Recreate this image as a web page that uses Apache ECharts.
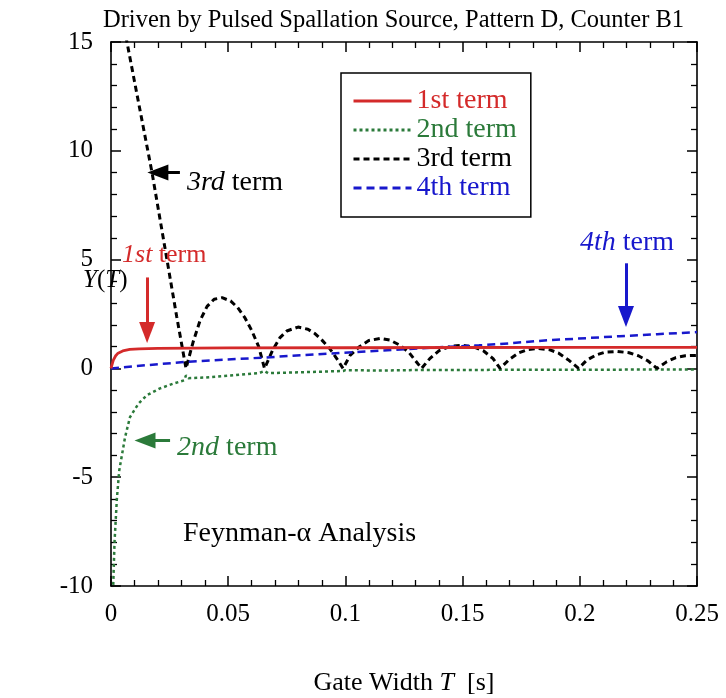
<!DOCTYPE html>
<html><head><meta charset="utf-8">
<script src="https://cdn.jsdelivr.net/npm/echarts@6/dist/echarts.min.js"></script>
<style>html,body{margin:0;padding:0;background:#fff}#c{width:726px;height:698px}</style>
</head><body><div id="c"></div>
<script>
const FONT = "'Liberation Serif','Times New Roman',serif";
const RED = '#d42a2a', GREEN = '#2b7a3a', BLACK = '#000000', BLUE = '#1818cc';

const seriesNames = ['1st term', '2nd term', '3rd term', '4th term'];
const xTicks = [0, 0.05, 0.1, 0.15, 0.2, 0.25];
const yTicks = [-10, -5, 0, 5, 10, 15];

// [gate width T (s), Y(T)]
const term1 = [[0,0],[0.0005,0.2],[0.001,0.38],[0.002,0.58],[0.003,0.7],[0.005,0.8],[0.008,0.87],[0.012,0.9],[0.02,0.92],[0.05,0.94],[0.1,0.95],[0.15,0.96],[0.2,0.97],[0.25,0.97]];
const term2 = [[0.0008,-10.5],[0.0015,-8.0],[0.0025,-6.0],[0.0035,-4.7],[0.006,-3.16],[0.0081,-2.24],[0.0117,-1.62],[0.0152,-1.24],[0.0209,-0.92],[0.0266,-0.7],[0.0312,-0.55],[0.032,-0.32],[0.033,-0.45],[0.04,-0.42],[0.051,-0.33],[0.063,-0.22],[0.0655,-0.12],[0.067,-0.22],[0.08,-0.18],[0.099,-0.12],[0.1,-0.08],[0.115,-0.1],[0.1325,-0.07],[0.15,-0.07],[0.2,-0.06],[0.25,-0.05]];
const term3 = [[0.004,16.6],[0.0068,15.0],[0.01,13.2],[0.0175,9.0],[0.0243,4.73],[0.028,2.4],[0.032,0],[0.035,1.2],[0.038,2.2],[0.041,2.85],[0.044,3.18],[0.0474,3.25],[0.051,3.1],[0.054,2.8],[0.057,2.35],[0.06,1.75],[0.063,1.0],[0.0655,0],[0.069,0.85],[0.072,1.4],[0.075,1.72],[0.0798,1.9],[0.084,1.8],[0.087,1.6],[0.09,1.3],[0.093,0.95],[0.096,0.5],[0.099,0],[0.102,0.6],[0.106,1.0],[0.11,1.28],[0.115,1.38],[0.119,1.3],[0.123,1.08],[0.127,0.75],[0.1325,0],[0.136,0.45],[0.14,0.82],[0.145,1.02],[0.15,1.06],[0.155,0.98],[0.159,0.8],[0.163,0.45],[0.166,0],[0.17,0.42],[0.174,0.72],[0.178,0.87],[0.182,0.92],[0.187,0.86],[0.191,0.7],[0.195,0.4],[0.1995,0],[0.203,0.38],[0.207,0.62],[0.211,0.75],[0.216,0.78],[0.221,0.72],[0.225,0.58],[0.229,0.35],[0.233,0],[0.237,0.3],[0.241,0.5],[0.245,0.58],[0.25,0.6]];
const term4 = [[0,0],[0.01,0.1],[0.032,0.3],[0.0655,0.5],[0.099,0.72],[0.115,0.82],[0.1325,0.93],[0.157,1.06],[0.166,1.12],[0.186,1.29],[0.1995,1.37],[0.217,1.48],[0.233,1.57],[0.25,1.67]];

// annotation anchors in data units
const arrow1 = [[0.0154,4.18],[0.0154,1.65]];
const arrow2 = [[0.0252,-3.31],[0.0145,-3.31]];
const arrow3 = [[0.0294,9.0],[0.0200,9.0]];
const arrow4 = [[0.2197,4.83],[0.2197,2.39]];
const label1 = [0.0047,5.19], label2 = [0.0282,-3.63], label3 = [0.0324,8.55], label4 = [0.2001,5.79];
const noteAt = [0.0307,-7.58];

const chart = echarts.init(document.getElementById('c'), null, {renderer:'canvas'});

function richStyles(color, size){
  size = size || 25;
  return {
    i:{fontStyle:'italic', fontWeight:'normal', fontFamily:FONT, fontSize:size, color:color},
    n:{fontStyle:'normal', fontWeight:'normal', fontFamily:FONT, fontSize:size, color:color}
  };
}
function arrowLine(pts, color){
  return {
    silent:true, animation:false,
    symbol:['none','triangle'],
    label:{show:false},
    lineStyle:{type:'solid', color:color, width:3},
    emphasis:{disabled:true},
    data:[[{coord:pts[0], symbol:'none', symbolSize:1},{coord:pts[1], symbol:'triangle', symbolSize:[16,21]}]]
  };
}
function textPoint(at, fmt, color, size){
  return {
    silent:true, animation:false,
    symbol:'rect', symbolSize:0,
    label:{show:true, position:'right', distance:0, formatter:fmt, rich:richStyles(color, size)},
    data:[{coord:at}]
  };
}

const axisCommon = {
  type:'value',
  axisLine:{show:true, onZero:false, lineStyle:{color:'#000', width:1.6}},
  axisTick:{show:true, inside:true, length:10, lineStyle:{color:'#000', width:1.5}},
  minorTick:{show:true, splitNumber:5, length:6, lineStyle:{color:'#000', width:1.3}},
  splitLine:{show:false}
};

const option = {
  animation:false,
  backgroundColor:'#fff',
  title:[
    {text:'Driven by Pulsed Spallation Source, Pattern D, Counter B1', left:103, top:8, padding:0,
     textStyle:{fontFamily:FONT, fontSize:24.5, fontWeight:'normal', color:'#000'}},
    {text:'{i|Y}{n|(}{i|T}{n|)}', left:83, top:268, padding:0,
     textStyle:{fontWeight:'normal', rich:richStyles('#000', 25)}}
  ],
  legend:{
    orient:'vertical', left:341, top:73,
    padding:[14,14,15,11],
    borderColor:'#000', borderWidth:1.5, backgroundColor:'#fff',
    itemWidth:58, itemHeight:20, itemGap:1,
    itemStyle:{opacity:0},
    lineStyle:{width:3},
    textStyle:{fontFamily:FONT, fontSize:28},
    selectedMode:false,
    data:[
      {name:seriesNames[0], textStyle:{color:RED}},
      {name:seriesNames[1], textStyle:{color:GREEN}},
      {name:seriesNames[2], textStyle:{color:BLACK}},
      {name:seriesNames[3], textStyle:{color:BLUE}}
    ]
  },
  grid:{left:111, right:29, top:42, bottom:112, containLabel:false, outerBoundsMode:'none'},
  xAxis:[
    Object.assign({}, axisCommon, {
      min:xTicks[0], max:xTicks[xTicks.length-1], interval:xTicks[1]-xTicks[0],
      position:'bottom',
      axisLabel:{margin:16, fontFamily:FONT, fontSize:25, color:'#000',
        formatter:function(v){return String(parseFloat(v.toFixed(3)));}},
      name:'{n|Gate Width }{i|T}{n|  [s]}', nameLocation:'middle', nameGap:84,
      nameTextStyle:{rich:richStyles('#000', 26)}
    }),
    Object.assign({}, axisCommon, {
      min:xTicks[0], max:xTicks[xTicks.length-1], interval:xTicks[1]-xTicks[0],
      position:'top', axisLabel:{show:false}
    })
  ],
  yAxis:[
    Object.assign({}, axisCommon, {
      min:yTicks[0], max:yTicks[yTicks.length-1], interval:yTicks[1]-yTicks[0],
      position:'left',
      axisLabel:{margin:18, fontFamily:FONT, fontSize:25, color:'#000', padding:[0,0,8,0]}
    }),
    Object.assign({}, axisCommon, {
      min:yTicks[0], max:yTicks[yTicks.length-1], interval:yTicks[1]-yTicks[0],
      position:'right', axisLabel:{show:false}
    })
  ],
  series:[
    {name:seriesNames[0], type:'line', data:term1, symbol:'none', showSymbol:false, clip:true,
     lineStyle:{color:RED, width:2.8, type:'solid'}, itemStyle:{color:RED}, z:5,
     markLine:arrowLine(arrow1, RED),
     markPoint:textPoint(label1, '{i|1st}{n| term}', RED, 26)},
    {name:seriesNames[1], type:'line', data:term2, symbol:'none', showSymbol:false, clip:true,
     lineStyle:{color:GREEN, width:2.5, type:[3,3]}, itemStyle:{color:GREEN}, z:3,
     markLine:arrowLine(arrow2, GREEN),
     markPoint:textPoint(label2, '{i|2nd}{n| term}', GREEN, 28)},
    {name:seriesNames[2], type:'line', data:term3, symbol:'none', showSymbol:false, clip:true,
     lineStyle:{color:BLACK, width:3, type:[6,4]}, itemStyle:{color:BLACK}, z:4,
     markLine:arrowLine(arrow3, BLACK),
     markPoint:{
       silent:true, animation:false, symbol:'rect', symbolSize:0,
       data:[
         {coord:label3, label:{show:true, position:'right', distance:0, formatter:'{i|3rd}{n| term}', rich:richStyles(BLACK, 28)}},
         {coord:noteAt, label:{show:true, position:'right', distance:0, formatter:'{n|Feynman-\u03b1 Analysis}', rich:richStyles(BLACK, 28)}}
       ]
     }},
    {name:seriesNames[3], type:'line', data:term4, symbol:'none', showSymbol:false, clip:true,
     lineStyle:{color:BLUE, width:2.5, type:[8,5]}, itemStyle:{color:BLUE}, z:4,
     markLine:arrowLine(arrow4, BLUE),
     markPoint:textPoint(label4, '{i|4th}{n| term}', BLUE, 28)}
  ]
};
chart.setOption(option);
</script>
</body></html>
